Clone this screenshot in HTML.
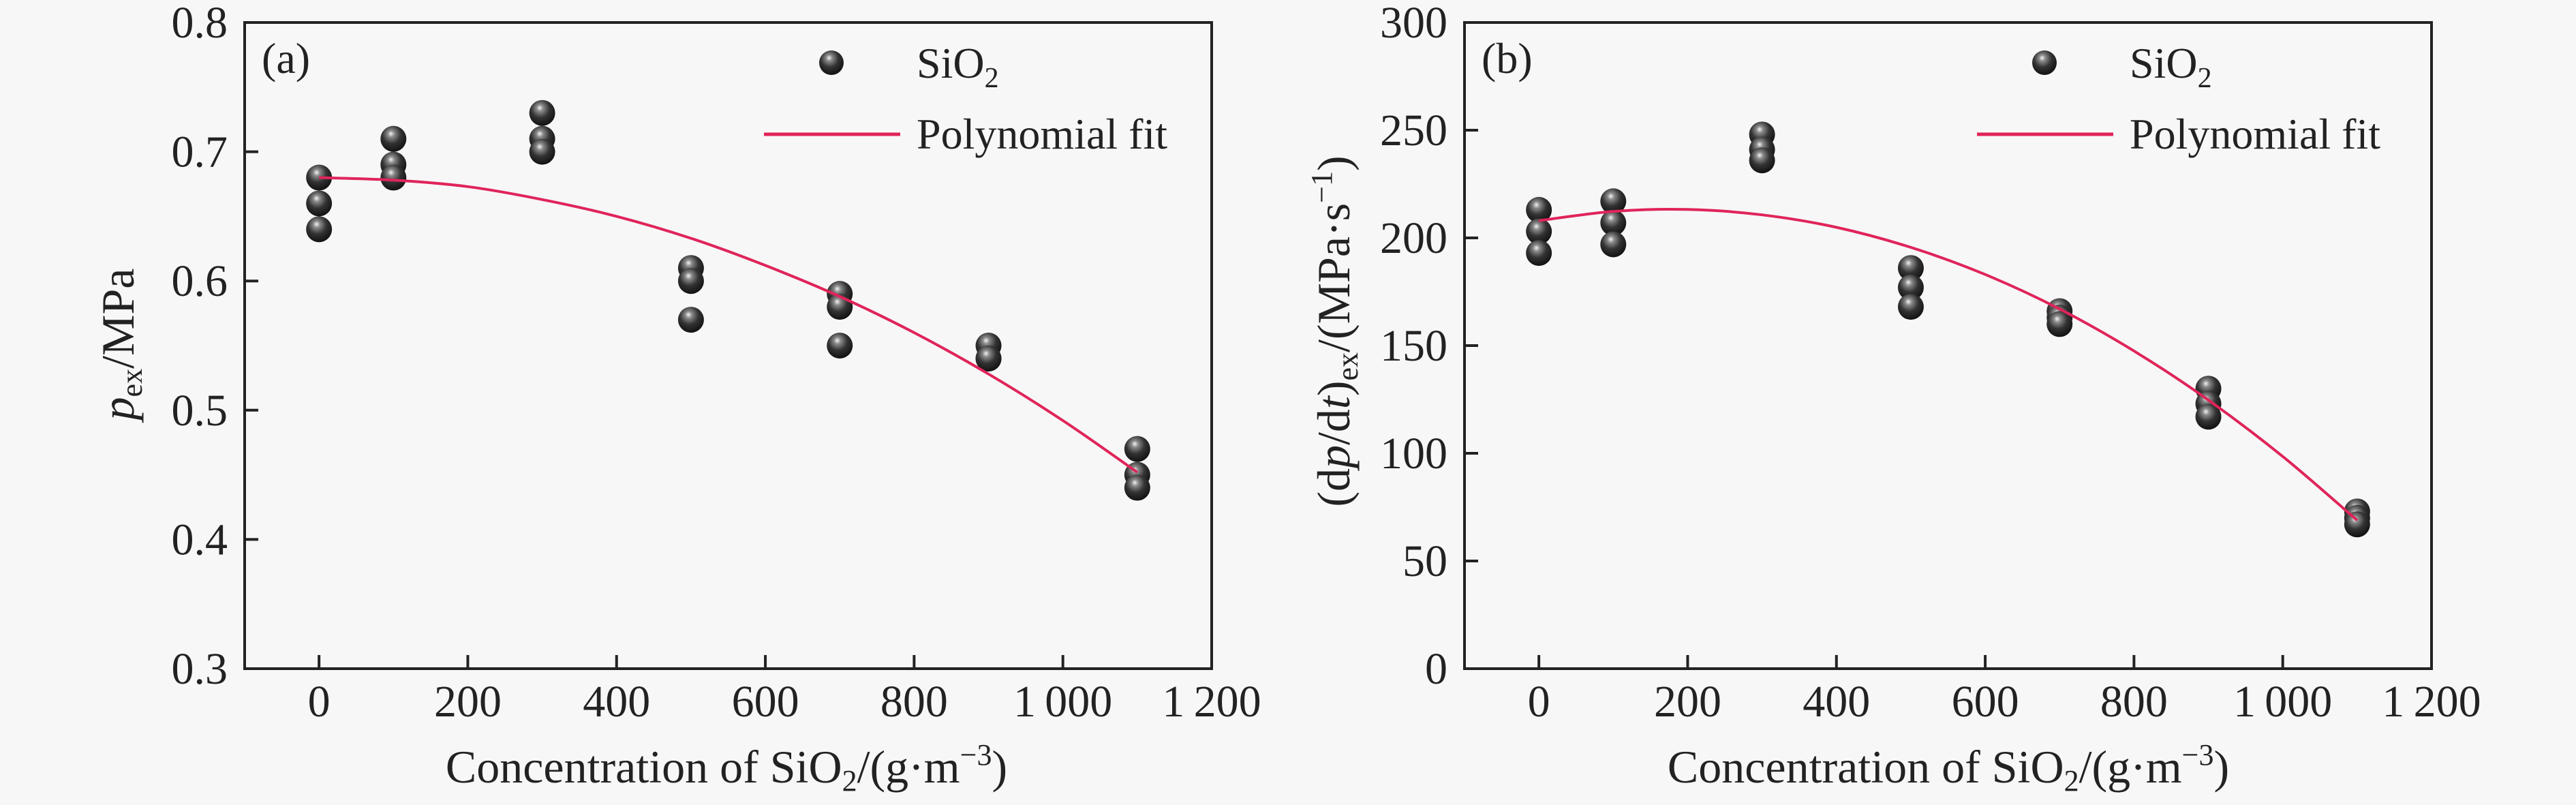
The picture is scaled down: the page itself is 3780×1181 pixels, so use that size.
<!DOCTYPE html>
<html><head><meta charset="utf-8"><style>
html,body{margin:0;padding:0;background:#f7f7f7;}
svg{display:block;}
svg text{font-family:"Liberation Serif","DejaVu Serif","Times New Roman",serif;}
</style></head><body>
<svg id="fig" width="3780" height="1181" viewBox="0 0 3780 1181" font-family="'Liberation Serif', 'DejaVu Serif', serif">
<defs>
<radialGradient id="ball" cx="0.45" cy="0.35" r="0.65" fx="0.4" fy="0.3">
<stop offset="0" stop-color="#f4f4f4"/><stop offset="0.2" stop-color="#8a8a8a"/><stop offset="0.55" stop-color="#333"/><stop offset="1" stop-color="#111"/>
</radialGradient>
</defs>
</svg>
<script>
// x categories shared by both panels
const xCats = [0,100,300,500,700,900,1100];
// panel (a) values: p_ex / MPa (three repeats per concentration)
const aRep1 = [0.68,0.71,0.73,0.61,0.59,0.55,0.47];
const aRep2 = [0.66,0.69,0.71,0.60,0.58,0.54,0.45];
const aRep3 = [0.64,0.68,0.70,0.57,0.55,0.54,0.44];
// panel (b) values: (dp/dt)_ex / (MPa/s)
const bRep1 = [213,217,248,186,166,130,73];
const bRep2 = [203,207,241,177,163,123,70];
const bRep3 = [193,197,236,168,160,117,67];
// polynomial fit read at these concentrations
const fitX = [0,100,200,300,400,500,600,700,800,900,1000,1100];
const aFit = [0.680,0.678,0.673,0.663,0.650,0.633,0.612,0.588,0.560,0.528,0.492,0.452];
const bFit = [208,212.3,213.2,210.7,204.9,195.6,183,167,147.5,124.7,98.5,68.9];
// tick labels
const xTicks = [0,200,400,600,800,1000,1200];
const xTickLabels = ["0","200","400","600","800","1\u2009000","1\u2009200"];
const aYTicks = [0.3,0.4,0.5,0.6,0.7,0.8];
const aYTickLabels = ["0.3","0.4","0.5","0.6","0.7","0.8"];
const bYTicks = [0,50,100,150,200,250,300];
const bYTickLabels = ["0","50","100","150","200","250","300"];

const NS="http://www.w3.org/2000/svg";
const FONT="'Liberation Serif', 'DejaVu Serif', serif";
const svg=document.getElementById('fig');
function mk(tag,attrs,parent){const e=document.createElementNS(NS,tag);for(const k in attrs)e.setAttribute(k,attrs[k]);if(tag==='text')e.setAttribute('font-family',FONT);(parent||svg).appendChild(e);return e;}

function smoothPath(pts){
  let d='M'+pts[0][0].toFixed(1)+','+pts[0][1].toFixed(1);
  for(let i=0;i<pts.length-1;i++){
    const p0=pts[i-1]||pts[i],p1=pts[i],p2=pts[i+1],p3=pts[i+2]||p2;
    const c1=[p1[0]+(p2[0]-p0[0])/6,p1[1]+(p2[1]-p0[1])/6];
    const c2=[p2[0]-(p3[0]-p1[0])/6,p2[1]-(p3[1]-p1[1])/6];
    d+=` C${c1[0].toFixed(1)},${c1[1].toFixed(1)} ${c2[0].toFixed(1)},${c2[1].toFixed(1)} ${p2[0].toFixed(1)},${p2[1].toFixed(1)}`;
  }
  return d;
}

function panel(o){
  const g=mk('g',{});
  
  
  const X=v=>o.x0+(v-(-100))/(1300)*(o.x1-o.x0);
  const Y=v=>o.y1-(v-o.ymin)/(o.ymax-o.ymin)*(o.y1-o.y0);
  const fr=mk('rect',{x:o.x0,y:o.y0,width:o.x1-o.x0,height:o.y1-o.y0,fill:'none',stroke:'#222','stroke-width':4},g);
  
  
  xTicks.forEach((t,i)=>{
    const x=X(t);
    const tk=mk('line',{x1:x,x2:x,y1:o.y1,y2:o.y1-20,stroke:'#222','stroke-width':4},g);
    
    
    const tl=mk('text',{x:x,y:1051,'font-size':66,'text-anchor':'middle',fill:'#222'},g);
    tl.textContent=xTickLabels[i];
    
    
  });
  o.yTicks.forEach((t,i)=>{
    const y=Y(t);
    const tk=mk('line',{x1:o.x0,x2:o.x0+20,y1:y,y2:y,stroke:'#222','stroke-width':4},g);
    
    
    const tl=mk('text',{x:o.x0-25,y:y+22,'font-size':66,'text-anchor':'end',fill:'#222'},g);
    tl.textContent=o.yLabels[i];
    
    
  });
  [o.r1,o.r2,o.r3].forEach(rep=>{
    rep.forEach((v,i)=>{
      const c=mk('circle',{cx:X(xCats[i]),cy:Y(v),r:19,fill:'url(#ball)'},g);
      
      
    });
  });
  const pts=o.fit.map((v,i)=>[X(fitX[i]),Y(v)]);
  const p=mk('path',{d:smoothPath(pts),fill:'none',stroke:'#e0245a','stroke-width':4},g);
  
  
  const pl=mk('text',{x:o.x0+25,y:107,'font-size':64,fill:'#222'},g);
  pl.textContent=o.tag;
  
  
  const lg=mk('g',{},g);
  
  
  const lm=mk('circle',{cx:o.legX,cy:92,r:18,fill:'url(#ball)'},lg);
  
  
  const lt=mk('text',{x:o.legX+125,y:114,'font-size':64,fill:'#222'},lg);
  lt.innerHTML='SiO<tspan font-size="42" dy="14">2</tspan>';
  
  
  const ll=mk('line',{x1:o.legX-99,x2:o.legX+101,y1:197,y2:197,stroke:'#e0245a','stroke-width':5},lg);
  
  
  const lt2=mk('text',{x:o.legX+125,y:218,'font-size':64,fill:'#222'},lg);
  lt2.textContent='Polynomial fit';
  
  
  const xt=mk('text',{x:o.xtc,y:1148,'font-size':68,'text-anchor':'middle',fill:'#222'},g);
  xt.innerHTML='Concentration of SiO<tspan font-size="44" dy="12">2</tspan><tspan dy="-12">/(g·m</tspan><tspan font-size="44" dy="-26">−3</tspan><tspan dy="26">)</tspan>';
  
  
  const yt=mk('text',{transform:`translate(${o.ytx},${o.yty}) rotate(-90)`,'font-size':68,'text-anchor':'middle',fill:'#222'},g);
  yt.innerHTML=o.ytitle;
  
  
}

panel({name:'panel-a',tag:'(a)',x0:359,x1:1778,y0:33,y1:981,ymin:0.3,ymax:0.8,yTicks:aYTicks,yLabels:aYTickLabels,
  r1:aRep1,r2:aRep2,r3:aRep3,fit:aFit,legX:1220,xtc:1066,ytx:196,yty:505,
  ytitle:'<tspan font-style="italic">p</tspan><tspan font-size="44" dy="12">ex</tspan><tspan dy="-12">/MPa</tspan>'});
panel({name:'panel-b',tag:'(b)',x0:2149,x1:3568,y0:33,y1:981,ymin:0,ymax:300,yTicks:bYTicks,yLabels:bYTickLabels,
  r1:bRep1,r2:bRep2,r3:bRep3,fit:bFit,legX:3000,xtc:2859,ytx:1980,yty:486,
  ytitle:'(d<tspan font-style="italic">p</tspan>/d<tspan font-style="italic">t</tspan>)<tspan font-size="44" dy="12">ex</tspan><tspan dy="-12">/(MPa·s</tspan><tspan font-size="44" dy="-26">−1</tspan><tspan dy="26">)</tspan>'});
</script>
</body></html>
